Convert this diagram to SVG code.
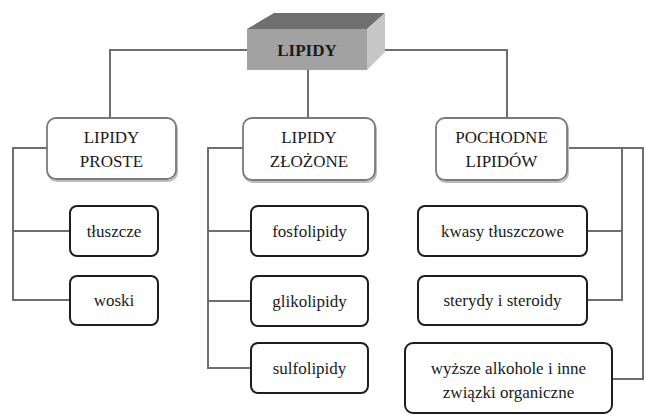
<svg xmlns="http://www.w3.org/2000/svg" width="645" height="415" viewBox="0 0 645 415">
<style>
.c{fill:none;stroke:#6e6e6e;stroke-width:2}
.p{fill:#fff;stroke:#7a7a7a;stroke-width:1.8}
.ps{fill:none;stroke:#bbb;stroke-width:2}
.k{fill:#fff;stroke:#1e1e1e;stroke-width:2}
text{font-size:17px;fill:#1a1a1a;text-anchor:middle}
.b{font-weight:bold}
</style>
<g font-family="'Liberation Serif', 'DejaVu Serif', serif">
<g id="connectors">
<path class="c" d="M247,50H110V118M367,50H507V118M308,70V118"/>
<path class="c" d="M47,148H13V300H70M13,231H70"/>
<path class="c" d="M243,148H208V368H251M208,231H251M208,301H251"/>
<path class="c" d="M567,148H643V379H612M622,148V300H587M622,231H587"/>
</g>
<g id="lipidy">
<polygon points="247,29 274,13 385,13 367,29" fill="#6f6f6f"/>
<polygon points="367,29 385,13 385,52 367,70" fill="#c6c6c6"/>
<rect x="247" y="29" width="120" height="41" fill="#a2a2a2"/>
<text class="b" x="307" y="56">LIPIDY</text>
</g>
<g id="lipidy-proste">
<rect class="ps" x="48" y="120" width="129" height="61" rx="9"/>
<rect class="p" x="47" y="118" width="129" height="61" rx="9"/>
<text x="111.5" y="143">LIPIDY</text>
<text x="111.5" y="167">PROSTE</text>
</g>
<g id="lipidy-zlozone">
<rect class="ps" x="244" y="120" width="132" height="62" rx="9"/>
<rect class="p" x="243" y="118" width="132" height="62" rx="9"/>
<text x="309" y="143">LIPIDY</text>
<text x="309" y="167">ZŁOŻONE</text>
</g>
<g id="pochodne-lipidow">
<rect class="ps" x="437" y="120" width="131" height="62" rx="9"/>
<rect class="p" x="436" y="118" width="131" height="62" rx="9"/>
<text x="501.5" y="143">POCHODNE</text>
<text x="501.5" y="167">LIPIDÓW</text>
</g>
<g id="tluszcze">
<rect class="k" x="70" y="206" width="88" height="50" rx="7"/>
<text x="114" y="237">tłuszcze</text>
</g>
<g id="woski">
<rect class="k" x="70" y="276" width="88" height="49" rx="7"/>
<text x="114" y="306">woski</text>
</g>
<g id="fosfolipidy">
<rect class="k" x="251" y="206" width="117" height="50" rx="7"/>
<text x="309.5" y="237">fosfolipidy</text>
</g>
<g id="glikolipidy">
<rect class="k" x="251" y="276" width="117" height="50" rx="7"/>
<text x="309.5" y="307">glikolipidy</text>
</g>
<g id="sulfolipidy">
<rect class="k" x="251" y="343" width="117" height="50" rx="7"/>
<text x="309.5" y="374">sulfolipidy</text>
</g>
<g id="kwasy">
<rect class="k" x="418" y="206" width="169" height="50" rx="7"/>
<text x="502.5" y="237">kwasy tłuszczowe</text>
</g>
<g id="sterydy">
<rect class="k" x="418" y="276" width="169" height="49" rx="7"/>
<text x="502.5" y="306">sterydy i steroidy</text>
</g>
<g id="wyzsze">
<rect class="k" x="405" y="343" width="207" height="70" rx="8"/>
<text x="508.5" y="374">wyższe alkohole i inne</text>
<text x="508.5" y="398">związki organiczne</text>
</g>
</g>
</svg>
